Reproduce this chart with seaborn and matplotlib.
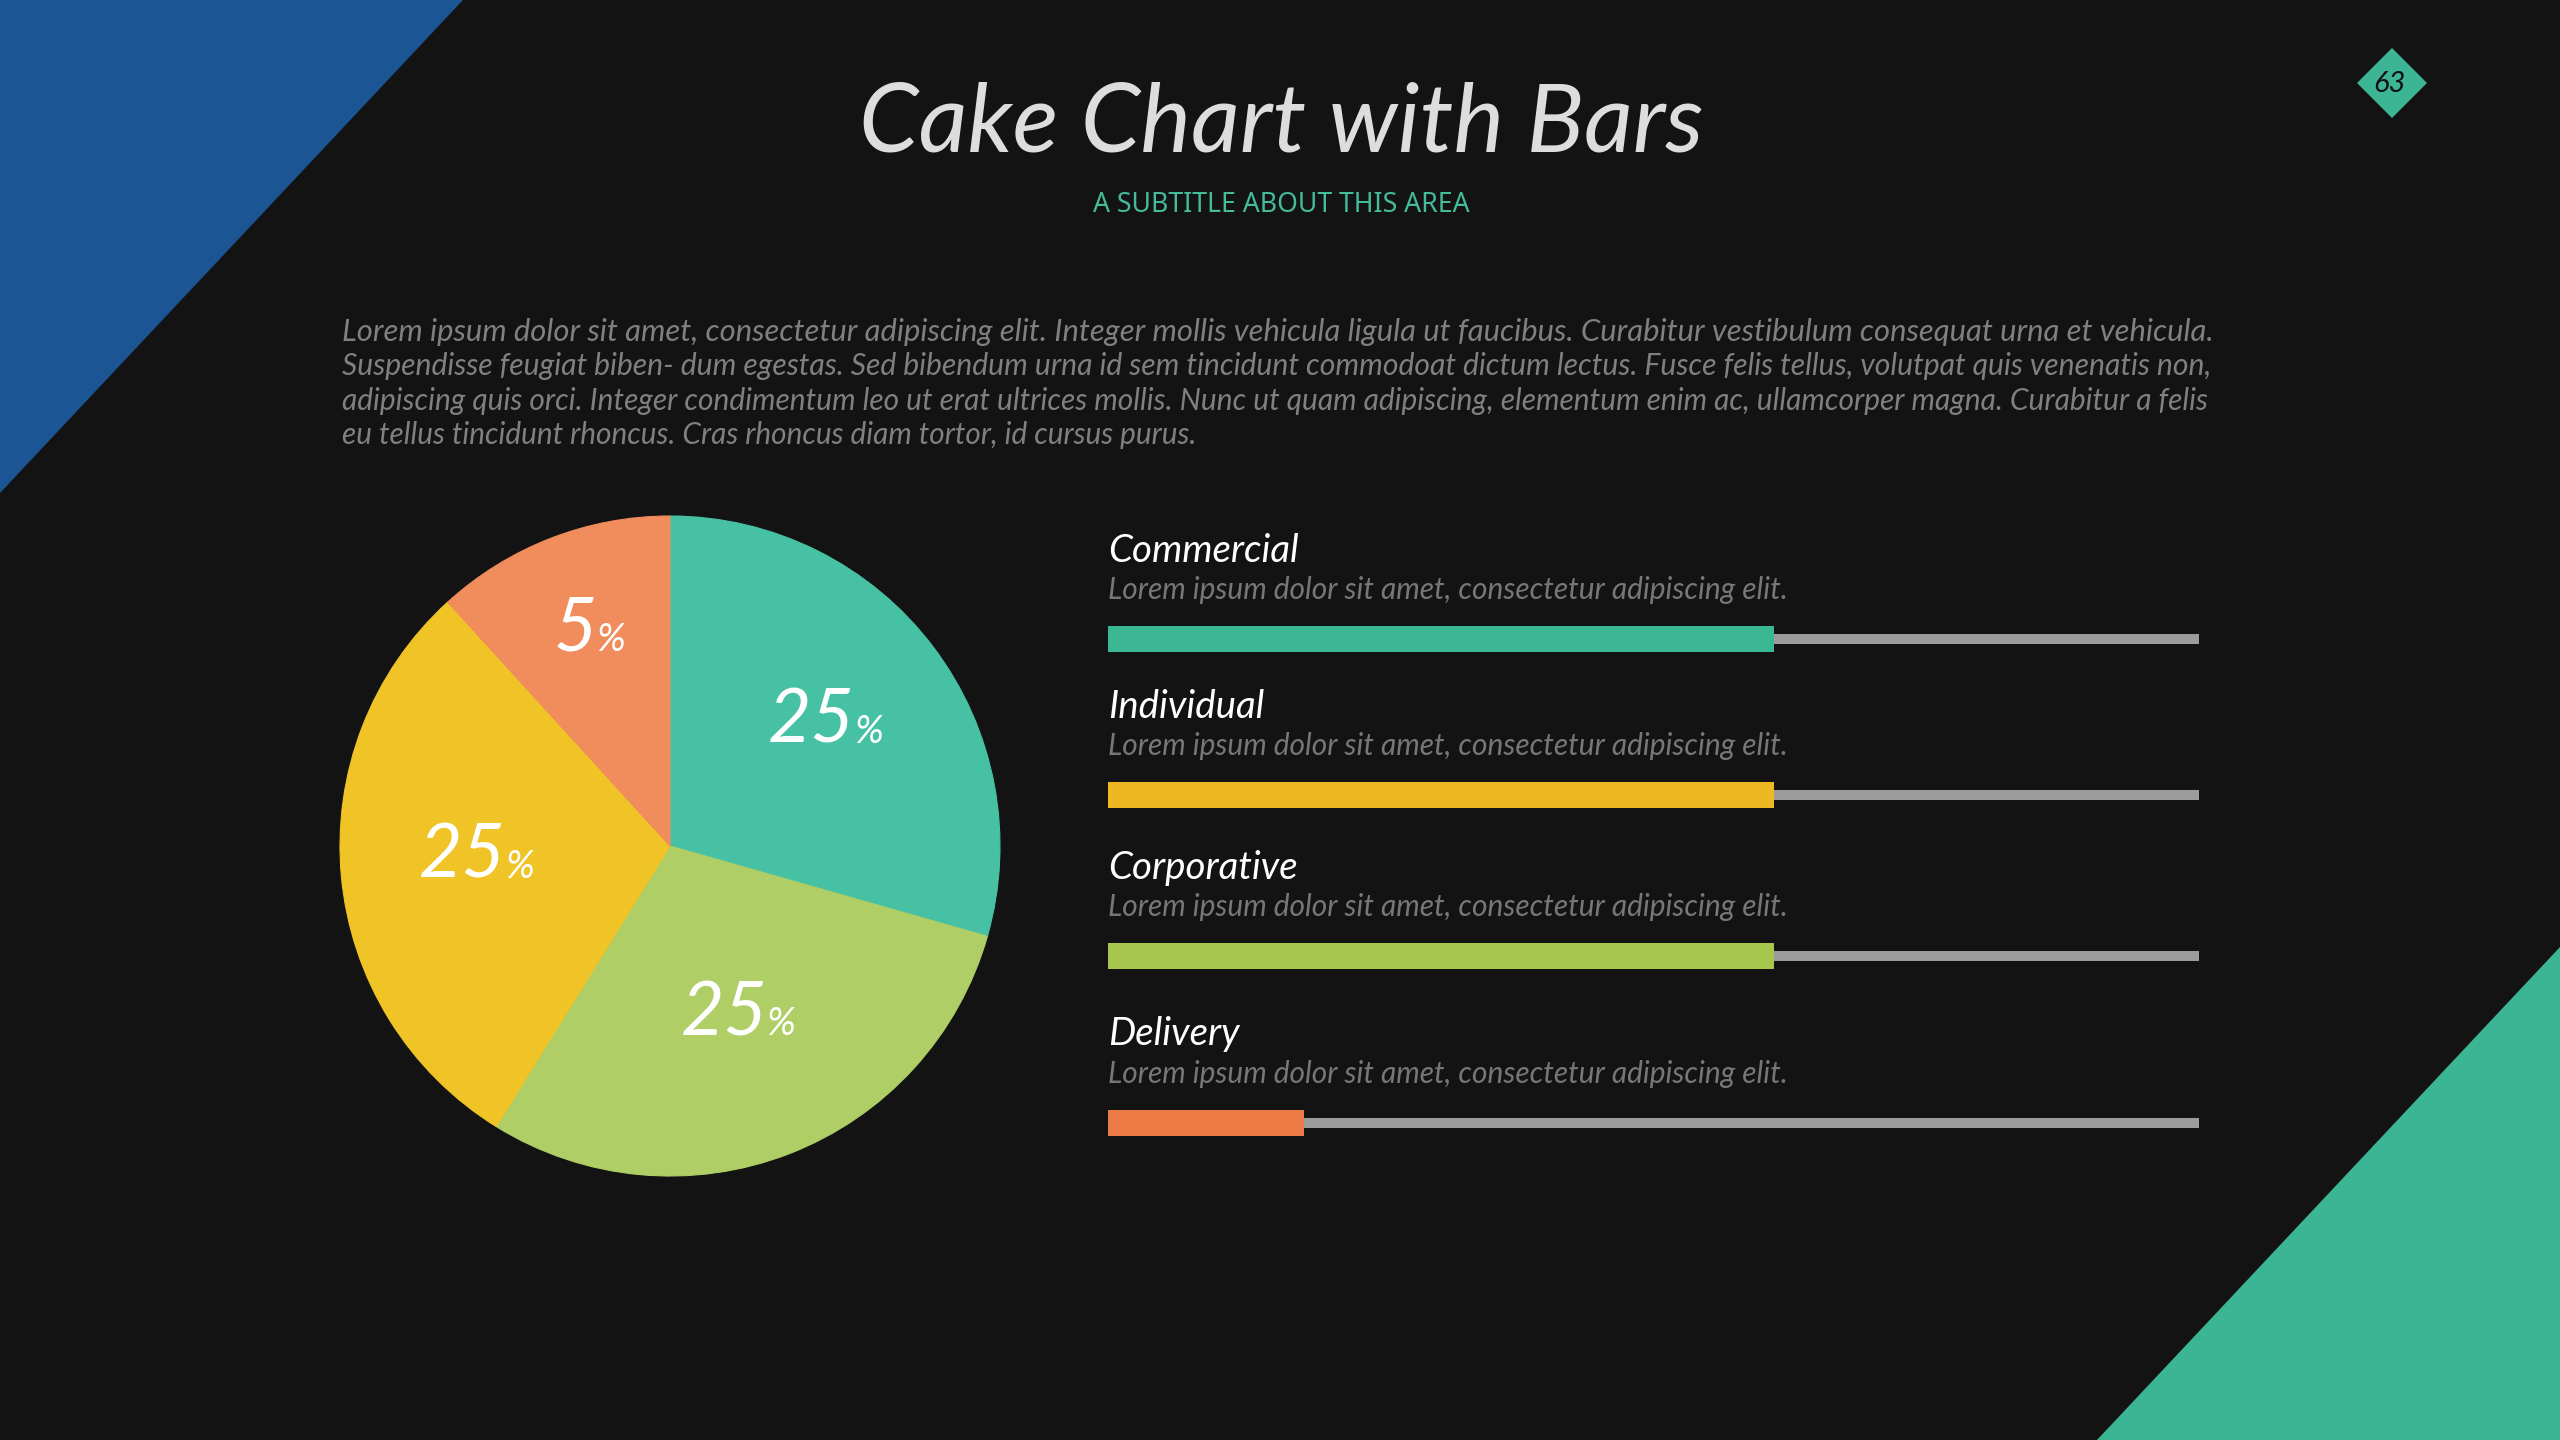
import numpy as np
import pandas as pd
import matplotlib
matplotlib.use("Agg")
import matplotlib.pyplot as plt
from matplotlib.patches import Polygon
import seaborn as sns

# ---------------- data ----------------
title_text = "Cake Chart with Bars"
subtitle_text = "A SUBTITLE ABOUT THIS AREA"
paragraph_lines = [
    "Lorem ipsum dolor sit amet, consectetur adipiscing elit. Integer mollis vehicula ligula ut faucibus. Curabitur vestibulum consequat urna et vehicula.",
    "Suspendisse feugiat biben- dum egestas. Sed bibendum urna id sem tincidunt commodoat dictum lectus. Fusce felis tellus, volutpat quis venenatis non,",
    "adipiscing quis orci. Integer condimentum leo ut erat ultrices mollis. Nunc ut quam adipiscing, elementum enim ac, ullamcorper magna. Curabitur a felis",
    "eu tellus tincidunt rhoncus. Cras rhoncus diam tortor, id cursus purus.",
]
page_number = "63"

pie_categories = ["Commercial", "Corporative", "Individual", "Delivery"]
pie_values = [25, 25, 25, 10]
pie_labels = ["25", "25", "25", "5"]

bar_categories = ["Commercial", "Individual", "Corporative", "Delivery"]
bar_values = [61, 61, 61, 18]
bar_descriptions = ["Lorem ipsum dolor sit amet, consectetur adipiscing elit."] * 4
bar_max = 100

# ---------------- style ----------------
W, H, DPI = 2560, 1440, 100
BG = "#131313"
pie_colors = ["#47C1A4", "#AFCE65", "#F0C426", "#F18C5C"]
bar_colors = ["#3CB793", "#EDB822", "#A6C64E", "#EC7A45"]
track_color = "#9C9C9C"
label_dist = [0.59, 0.57, 0.59, 0.68]
row_centers = [638.5, 794.5, 956, 1122.5]      # pixel rows of the bars
para_widths = [1867, 1869, 1862, 856]          # pixel widths of the paragraph lines

sns.set_theme(style="dark")
plt.rcParams["font.family"] = ["Lato", "DejaVu Sans"]

fig = plt.figure(figsize=(W / DPI, H / DPI), dpi=DPI, facecolor=BG)
renderer = fig.canvas.get_renderer()

bg = fig.add_axes([0, 0, 1, 1], zorder=0)
bg.set_xlim(0, W)
bg.set_ylim(H, 0)
bg.axis("off")
bg.set_facecolor(BG)
bg.add_patch(Polygon([(0, 0), (463, 0), (0, 493)], closed=True, color="#1B5593", lw=0))
bg.add_patch(Polygon([(W, 947), (W, H), (2097, H)], closed=True, color="#3BB593", lw=0))


def fit_text(ax, x, y, s, target_w, **kw):
    t = ax.text(x, y, s, fontsize=20, **kw)
    w = t.get_window_extent(renderer).width
    t.set_fontsize(20 * target_w / w)
    return t


# title and subtitle
fit_text(bg, 1281, 152, title_text, 845, color="#DDDDDD", ha="center",
         va="baseline", style="italic")
fit_text(bg, 1281, 212, subtitle_text, 377, color="#44BB99", ha="center",
         va="baseline", family=["Noto Sans", "DejaVu Sans"])

# paragraph
for i, (line, pw) in enumerate(zip(paragraph_lines, para_widths)):
    fit_text(bg, 342, 341 + 34.3 * i, line, pw, color="#808080",
             ha="left", va="baseline", style="italic")

# page number diamond
bg.add_patch(Polygon([(2392, 48), (2427, 83), (2392, 118), (2357, 83)],
                     closed=True, color="#3BB593", lw=0))
bg.text(2389, 84, page_number, fontsize=21, color="#111111", ha="center",
        va="center", style="italic")

# ---------------- pie ----------------
cx, cy, r = 670, 846, 330
ax_pie = fig.add_axes([(cx - r) / W, (H - cy - r) / H, 2 * r / W, 2 * r / H], zorder=2)
ax_pie.set_facecolor("none")
wedges, _ = ax_pie.pie(pie_values, colors=pie_colors, startangle=90,
                       counterclock=False, radius=1)
for w_, c_ in zip(wedges, pie_colors):
    w_.set_edgecolor(c_)
    w_.set_linewidth(0.8)
ax_pie.set_xlim(-1, 1)
ax_pie.set_ylim(-1, 1)
ax_pie.set_aspect("equal")
ax_pie.axis("off")

gap = -1
base_dy = -14
for w, lab, d in zip(wedges, pie_labels, label_dist):
    th = np.deg2rad((w.theta1 + w.theta2) / 2)
    px, py = d * np.cos(th), d * np.sin(th)
    tn = ax_pie.annotate(lab, (px, py), xytext=(0, base_dy), textcoords="offset pixels",
                         fontsize=54, color="white", ha="center", va="baseline",
                         style="italic")
    tp = ax_pie.annotate("%", (px, py), xytext=(0, base_dy), textcoords="offset pixels",
                         fontsize=28, color="white", ha="left", va="baseline",
                         style="italic")
    wn = tn.get_window_extent(renderer).width
    wp = tp.get_window_extent(renderer).width
    s = (wp + gap) / 2
    tn.set_position((-s, base_dy))
    tp.set_position((-s + wn / 2 + gap, base_dy))

# ---------------- bars ----------------
x0, bw, bh = 1108, 1091, 26
label_size = None
desc_size = None
for cat, val, desc, col, yc in zip(bar_categories, bar_values, bar_descriptions,
                                   bar_colors, row_centers):
    ax = fig.add_axes([x0 / W, (H - yc - bh / 2) / H, bw / W, bh / H], zorder=2)
    ax.set_facecolor("none")
    ax.barh([0], [bar_max], height=10 / 26, color=track_color, linewidth=0,
            edgecolor="none", zorder=1)
    df = pd.DataFrame({"category": [cat], "value": [val]})
    sns.barplot(data=df, x="value", y="category", orient="h", width=1.0,
                color=col, saturation=1, linewidth=0, edgecolor="none",
                ax=ax, zorder=2)
    ax.set_xlim(0, bar_max)
    ax.set_ylim(0.5, -0.5)
    ax.axis("off")
    if label_size is None:
        tl = fit_text(bg, x0, yc - 77, cat, 191, color="white", ha="left",
                      va="baseline", style="italic")
        label_size = tl.get_fontsize()
        td = fit_text(bg, x0, yc - 40, desc, 679, color="#777777", ha="left",
                      va="baseline", style="italic")
        desc_size = td.get_fontsize()
    else:
        bg.text(x0, yc - 77, cat, fontsize=label_size, color="white", ha="left",
                va="baseline", style="italic")
        bg.text(x0, yc - 40, desc, fontsize=desc_size, color="#777777", ha="left",
                va="baseline", style="italic")

fig.savefig("out.png", dpi=DPI, facecolor=BG)
